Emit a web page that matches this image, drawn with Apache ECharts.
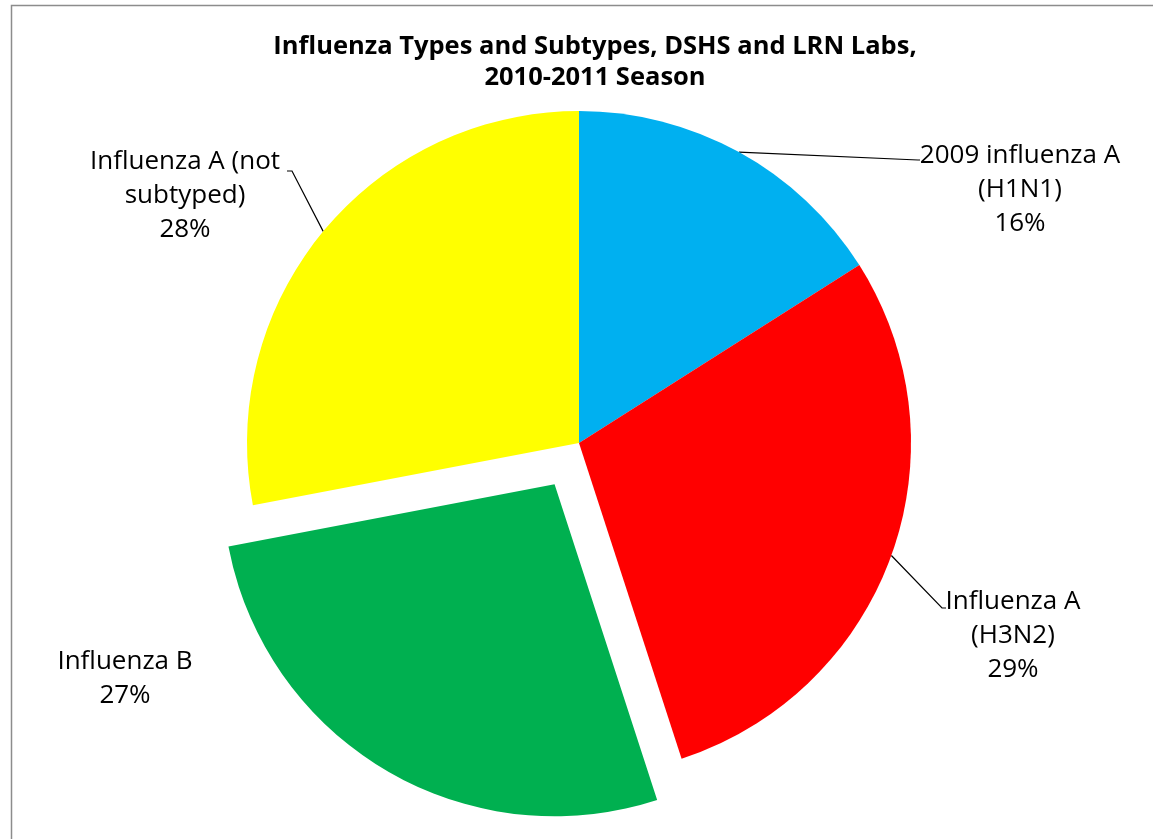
<!DOCTYPE html>
<html>
<head>
<meta charset="utf-8">
<script src="https://cdn.jsdelivr.net/npm/echarts@6/dist/echarts.min.js"></script>
<style>
html,body{margin:0;padding:0;background:#fff;}
#chart{width:1153px;height:839px;}
</style>
</head>
<body>
<div id="chart"></div>
<script>
var categories = ['2009 influenza A\n(H1N1)', 'Influenza A\n(H3N2)', 'Influenza B', 'Influenza A (not\nsubtyped)'];
var values = [16, 29, 27, 28];
var colors = ['#00B0F0', '#FF0000', '#00B050', '#FFFF00'];
var exploded = [false, false, true, false];
var titleText = 'Influenza Types and Subtypes, DSHS and LRN Labs,\n2010-2011 Season';

// layout constants
var CX = 579, CY = 443, R = 332, EXPLODE = 48;
var labelPos = [
  {x: 1020, y: 190, bends: [[918, 160], [920, 160]]},
  {x: 1013, y: 636, bends: [[942, 608], [946, 608]]},
  {x: 125, y: 679, bends: null},
  {x: 185, y: 196, bends: [[292, 171], [287, 171]]}
];

var total = values.reduce(function (a, b) { return a + b; }, 0);
var cum = 0;
var mids = values.map(function (v) { var m = (cum + v / 2) / total * 2 * Math.PI; cum += v; return m; });
var exIdx = exploded.indexOf(true);
var offX = EXPLODE * Math.sin(mids[exIdx]);
var offY = -EXPLODE * Math.cos(mids[exIdx]);

function buildData(explodedLayer) {
  return categories.map(function (c, i) {
    var visible = explodedLayer ? exploded[i] : !exploded[i];
    return {
      name: c,
      value: values[i],
      itemStyle: {color: visible ? colors[i] : 'rgba(0,0,0,0)'},
      label: {show: visible},
      labelLine: {show: visible && labelPos[i].bends !== null}
    };
  });
}

var labelStyle = {
  show: true,
  position: 'outside',
  formatter: function (p) { return p.name + '\n' + p.value + '%'; },
  fontFamily: 'Open Sans',
  fontSize: 26,
  lineHeight: 34,
  color: '#000',
  align: 'center'
};
function layoutFn(params) {
  var lp = labelPos[params.dataIndex];
  var res = {x: lp.x, y: lp.y, align: 'center', verticalAlign: 'middle'};
  if (lp.bends && params.labelLinePoints) {
    res.labelLinePoints = [params.labelLinePoints[0], lp.bends[0], lp.bends[1]];
  }
  return res;
}
function pieSeries(cx, cy, explodedLayer) {
  return {
    type: 'pie',
    center: [cx, cy],
    radius: R,
    startAngle: 90,
    clockwise: true,
    avoidLabelOverlap: false,
    emphasis: {disabled: true},
    silent: true,
    itemStyle: {borderWidth: 0},
    label: labelStyle,
    labelLine: {show: true, length: 20, length2: 20, lineStyle: {color: '#000', width: 1.2}},
    labelLayout: layoutFn,
    data: buildData(explodedLayer)
  };
}

var chart = echarts.init(document.getElementById('chart'), null, {renderer: 'canvas'});
chart.setOption({
  animation: false,
  backgroundColor: '#ffffff',
  title: {
    text: titleText,
    left: 590,
    top: 26,
    textAlign: 'center',
    textStyle: {
      fontFamily: 'Open Sans',
      fontWeight: 'bold',
      fontSize: 25.5,
      lineHeight: 31,
      color: '#000'
    }
  },
  graphic: [{
    type: 'rect',
    shape: {x: 11.5, y: 5.5, width: 1160, height: 860},
    style: {fill: 'none', stroke: '#8c8c8c', lineWidth: 1.5},
    silent: true,
    z: 100
  }],
  series: [
    pieSeries(CX, CY, false),
    pieSeries(CX + offX, CY + offY, true)
  ]
});
</script>
</body>
</html>
